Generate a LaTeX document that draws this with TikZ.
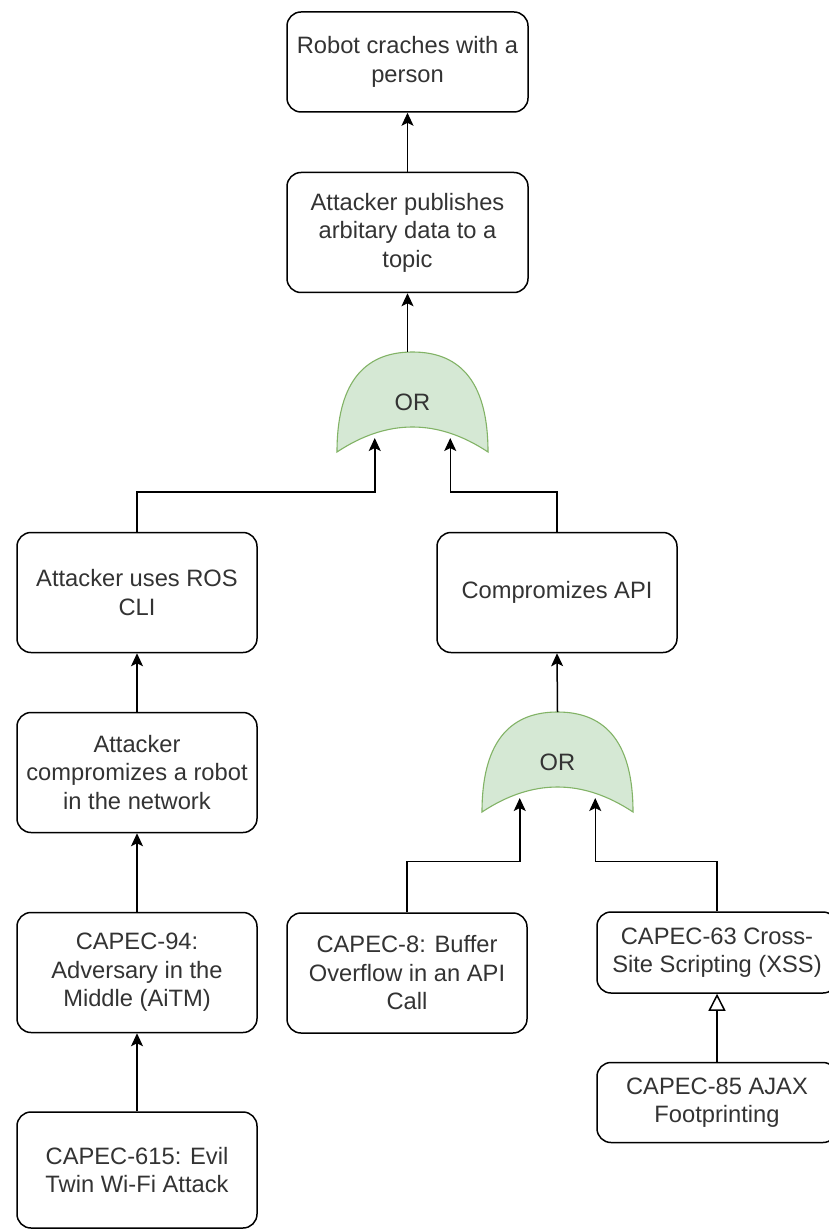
\documentclass[tikz,border=0pt]{standalone}
\usepackage{fontspec}
\setmainfont{Liberation Sans}
\usetikzlibrary{calc}
\usetikzlibrary{arrows.meta}
\usetikzlibrary{backgrounds}
\definecolor{gatefill}{HTML}{D5E8D4}
\definecolor{gateline}{HTML}{82B366}
\definecolor{txt}{HTML}{333333}

\begin{document}
\begin{tikzpicture}[
    x=1pt, y=-1pt,
    every node/.style={font=\fontsize{23.7}{28.5}\selectfont, text=txt, align=center},
    event/.style={draw, rounded corners=14pt, line width=1.5pt, minimum width=240pt, minimum height=120pt, inner sep=2pt},
    orgate/.style={minimum width=151pt, minimum height=100pt, outer sep=0pt, inner sep=0pt},
    gate/.style={fill=gatefill, draw=gateline, line width=1.1pt},
    arr/.style={line width=1.5pt, -{Stealth[length=13pt,width=12pt,inset=3pt]}},
    refines/.style={line width=1.5pt, -{Triangle[open,length=17pt,width=17pt,fill=white]}},
  ]
  \useasboundingbox (0,0) rectangle (828,1230);

  % top of the tree
  \node (crash) [event, minimum width=241pt, minimum height=100pt] at (407.5, 62) {Robot craches with a\\person};
  \node (pub) [event, minimum width=241pt] at (407.5, 232.5) {Attacker publishes\\arbitary data to a\\topic};
  \node (or1) [orgate] at (412.5, 402) {OR};

  % left branch
  \node (ros) [event] at (137, 592.5) {Attacker uses ROS\\CLI};
  \node (robot) [event] at (137, 772.5) {Attacker\\compromizes a robot\\in the network};
  \node (aitm) [event] at (137, 972.5) {CAPEC-94:\\Adversary in the\\Middle (AiTM)};
  \node (evil) [event, minimum height=116pt] at (137, 1170) {CAPEC-615: Evil\\Twin Wi-Fi Attack};

  % right branch
  \node (api) [event] at (557, 592.5) {Compromizes API};
  \node (or2) [orgate] at (557.5, 762) {OR};
  \node (bof) [event] at (407, 973) {CAPEC-8: Buffer\\Overflow in an API\\Call};
  \node (xss) [event, minimum height=81pt] at (717, 952.5) {CAPEC-63 Cross-\\Site Scripting (XSS)};
  \node (ajax) [event, minimum height=80pt] at (717, 1102.5) {CAPEC-85 AJAX\\Footprinting};

  % white page, then the gate outlines behind the labels, plus their two inputs
  \begin{scope}[on background layer]
    \fill[white] (0,0) rectangle (828,1230);
    \foreach \g in {or1,or2} {
      \draw[gate] (\g.south west)
        .. controls ($(\g.north west)!1/3!(\g.south west)$) and ($(\g.north)!2/3!(\g.north west)$) .. (\g.north)
        .. controls ($(\g.north)!2/3!(\g.north east)$) and ($(\g.north east)!1/3!(\g.south east)$) .. (\g.south east)
        .. controls ($(\g.south)!1/3!(\g.north east)$) and ($(\g.south)!1/3!(\g.north west)$) .. cycle;
      \coordinate (\g-a) at ([yshift=14pt]$(\g.south)!0.5!(\g.south west)$);
      \coordinate (\g-b) at ([yshift=14pt]$(\g.south)!0.5!(\g.south east)$);
    }
  \end{scope}

  \draw[arr] (pub.north) -- (crash.south);
  \draw[arr] (or1.north -| pub.south) -- (pub.south);
  \draw[arr] (ros.north) -- ++(0,-40) -| (or1-a);
  \draw[arr] (api.north) -- ++(0,-40) -| (or1-b);
  \draw[arr] (robot.north) -- (ros.south);
  \draw[arr] (aitm.north) -- (robot.south);
  \draw[arr] (evil.north) -- (aitm.south);
  \draw[arr] (or2.north) -- (api.south);
  \draw[arr] (bof.north) -- ++(0,-51) -| (or2-a);
  \draw[arr] (xss.north) -- ++(0,-50) -| (or2-b);
  \draw[refines] (ajax.north) -- (xss.south);
\end{tikzpicture}
\end{document}
